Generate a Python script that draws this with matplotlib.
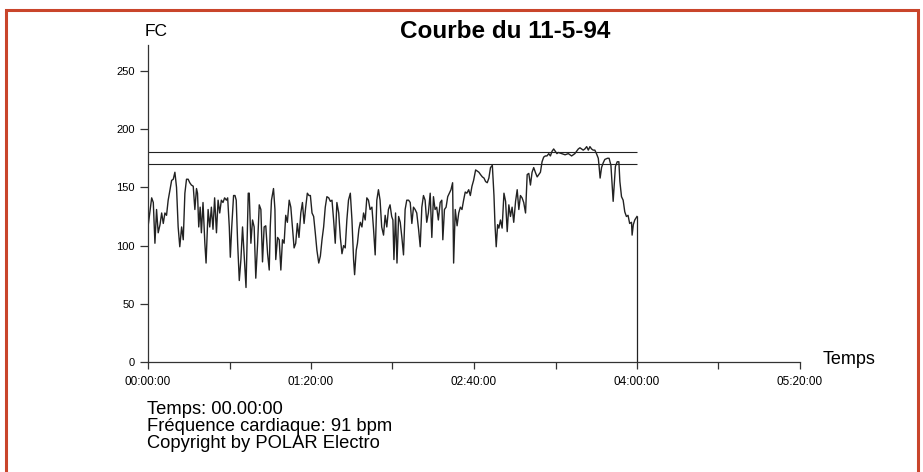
import matplotlib.pyplot as plt
from matplotlib.patches import Rectangle

# heart rate trace (minutes, bpm)
minutes = [
    0, 1.8, 2.6, 3.4, 4.2, 5.0, 5.9, 6.7, 7.5, 8.3, 9.1, 9.9, 10.8, 11.6, 12.4, 13.2,
    14.0, 14.8, 15.6, 16.5, 17.3, 18.1, 18.9, 19.7, 20.5, 21.3, 22.2, 23.0, 23.8, 24.3,
    24.9, 25.6, 26.2, 27.0, 27.9, 28.5, 29.5, 30.3, 31.1, 31.9, 32.7, 33.6, 34.4, 35.2,
    36.0, 36.8, 37.6, 38.5,
    39.1, 39.9, 40.4, 41.1, 42.0, 42.7, 43.3, 44.0, 44.8, 45.6, 46.4, 47.3, 48.1, 48.6,
    49.2, 49.7, 50.5, 51.3, 52.1, 52.9, 53.8, 54.6, 55.4, 56.2, 57.0, 57.8, 58.7, 59.5,
    60.0, 60.6, 61.6, 62.3, 62.7, 63.6, 64.4, 65.2, 66.0, 66.8, 67.6, 68.4, 69.3, 70.1,
    70.9, 71.7, 72.5, 73.3, 74.1, 75.0, 75.8, 76.6, 77.4, 78.2, 79.0,
    79.7, 80.5, 81.3, 82.1, 82.9, 83.8, 84.6, 85.4, 86.2, 87.0, 87.8, 88.7, 89.5, 90.3,
    91.1, 91.9, 92.7, 93.6, 94.4, 95.2, 96.0, 96.8, 97.6, 98.4, 99.3, 100.1, 100.9,
    101.4, 102.2, 102.8, 103.5, 104.2, 105.0, 105.8, 106.6, 107.4, 108.2, 109.0, 109.9,
    110.7, 111.5, 112.3, 113.1, 113.9, 114.7, 115.6, 116.4, 117.2, 118.0, 118.8, 119.6,
    120.2, 120.7, 121.5, 122.2, 123.0, 123.8, 124.6, 125.4, 126.2, 127.0, 127.9, 128.7,
    129.5, 130.3, 131.1, 131.9, 132.8, 133.6, 134.4, 135.2, 136.0, 136.8, 137.6, 138.5,
    139.3, 140.1, 140.9, 141.7, 142.5, 143.4, 144.2, 144.7, 145.5, 146.3, 147.1, 147.9,
    148.7, 149.5, 150.0, 150.8, 151.7, 152.5, 153.3, 154.1, 154.9, 155.7, 156.5, 157.4,
    158.2, 159.0, 159.8,
    160.8, 162.4, 163.2, 164.1, 164.9, 165.7, 166.5, 167.3, 168.1, 169.0, 169.8, 170.3,
    170.9, 171.6, 172.2, 173.0, 173.8, 174.7, 175.5, 176.3, 177.1, 177.9, 178.7, 179.5,
    180.4, 181.2, 182.0, 182.8, 183.6, 184.4, 185.3, 186.1, 186.9, 187.7, 188.5, 189.3,
    190.1, 191.0, 191.8, 192.6, 193.4, 194.2, 195.0, 195.8, 196.7, 197.5, 198.3, 199.1,
    199.9, 200.7,
    201.4, 203.0, 204.7, 206.3, 207.9, 209.5, 211.2, 212.0, 212.8, 213.6, 214.4, 215.3,
    216.1, 216.9, 217.7, 218.5, 219.3, 220.1, 221.0, 221.4, 221.9, 222.6, 223.4, 224.2,
    225.5, 226.3, 227.2, 227.8, 228.3, 228.8, 229.4, 230.3, 231.1, 231.6, 232.4, 233.2,
    234.0, 234.8, 235.6, 236.4, 237.3, 237.6, 238.2, 238.9, 240.0,
]
hr = [
    116, 141, 137, 102, 131, 111, 118, 128, 119, 128, 126, 139, 148, 156, 157, 163,
    150, 116, 99, 116, 105, 145, 157, 157, 154, 152, 151, 131, 149, 145,
    116, 133, 111, 137, 102, 85, 131, 116, 133, 114, 141, 111, 139, 128,
    139, 137, 141, 139,
    141, 116, 90, 116, 143, 143, 139, 102, 70, 88, 116, 88, 64, 102,
    145, 145, 102, 122, 116, 72, 102, 135, 131, 86, 116, 117, 93, 79,
    116, 139, 149, 131, 88, 107, 105, 79, 105, 102, 126, 120, 139, 133,
    116, 98, 102, 119, 107, 128, 137, 119, 133, 145, 143,
    143, 128, 125, 111, 96, 85, 91, 105, 116, 133, 142, 141, 138, 139,
    122, 102, 137, 128, 107, 93, 100, 98, 122, 139, 145, 122, 88,
    75, 96, 102, 114, 120, 116, 128, 122, 141, 139, 131, 133,
    114, 92, 139, 148, 139, 116, 109, 126, 116, 131, 135, 125,
    122, 88, 128, 85, 125, 120, 107, 92, 131, 139, 139, 137,
    119, 133, 131, 128, 114, 99, 133, 143, 139, 120, 128, 145,
    107, 142, 131, 133, 122, 137, 139, 105, 131, 133, 142, 145,
    148, 154, 85, 131, 117, 128, 133, 131, 139, 146, 145, 148,
    143, 151, 156,
    165, 163, 161, 159, 158, 155, 154, 158, 167, 169, 143, 118,
    99, 118, 115, 122, 115, 145, 138, 112, 135, 125, 133, 120,
    138, 148, 131, 143, 141, 137, 128, 161, 162, 152, 163, 167,
    163, 159, 161, 163, 172, 176, 177, 177, 179, 177, 181, 183,
    181, 179,
    180, 179, 178, 179, 177, 179, 183, 184, 183, 182, 183, 185,
    182, 185, 183, 182, 182, 179, 175, 168, 158, 167, 171, 174,
    175, 175, 169, 152, 138, 152, 168, 172, 172, 155, 142, 139,
    129, 125, 126, 119, 120, 109, 118, 122, 125,
]

limits = [170, 180]
y_ticks = [0, 50, 100, 150, 200, 250]
x_labels = ["00:00:00", "01:20:00", "02:40:00", "04:00:00", "05:20:00"]


def to_minutes(label):
    h, m, s = label.split(":")
    return int(h) * 60 + int(m) + int(s) / 60


x_major = [to_minutes(l) for l in x_labels]
x_minor = [(a + b) / 2 for a, b in zip(x_major[:-1], x_major[1:])]

plt.rcParams['font.family'] = ['Liberation Sans', 'DejaVu Sans']

fig = plt.figure(figsize=(9.23, 4.72), dpi=100)
ax = fig.add_axes([148 / 923, 1 - 362 / 472, (800 - 148) / 923, (362 - 45) / 472])

line_col = '#222222'
ax.plot(minutes, hr, color=line_col, lw=1.0)
ax.vlines(minutes[-1], 0, hr[-1], color=line_col, lw=0.9)
for lim in limits:
    ax.hlines(lim, 0, minutes[-1], color=line_col, lw=0.8)

ax.set_xlim(0, x_major[-1])
ax.set_ylim(0, 272.3)
ax.set_yticks(y_ticks)
ax.set_xticks(x_major)
ax.set_xticklabels(x_labels)
ax.set_xticks(x_minor, minor=True)

for side in ['top', 'right']:
    ax.spines[side].set_visible(False)
for side in ['left', 'bottom']:
    ax.spines[side].set_color('#333333')
    ax.spines[side].set_linewidth(0.9)

ax.tick_params(axis='x', which='both', length=5, width=0.9, color='#333333',
               labelsize=8.5, pad=5)
ax.tick_params(axis='y', length=5.5, width=0.9, color='#333333', labelsize=8, pad=4)

fig.text(156 / 923, 1 - 32 / 472, "FC", fontsize=12.5, ha='center', va='center')
fig.text(505 / 923, 1 - 32 / 472, "Courbe du 11-5-94", fontsize=17.5, fontweight='bold',
         ha='center', va='center')
fig.text(823 / 923, 1 - 359 / 472, "Temps", fontsize=13, ha='left', va='center')

info = ["Temps: 00.00:00", "Fréquence cardiaque: 91 bpm", "Copyright by POLAR Electro"]
for i, txt in enumerate(info):
    fig.text(147 / 923, 1 - (410 + 16.7 * i) / 472, txt, fontsize=13.2,
             ha='left', va='center')

fig.add_artist(Rectangle((6 / 923, -0.05), (918 - 6) / 923, 1.05 - 10 / 472,
                         transform=fig.transFigure, fill=False,
                         ec='#c9452b', lw=2.2))

fig.savefig('out.png', dpi=100)
